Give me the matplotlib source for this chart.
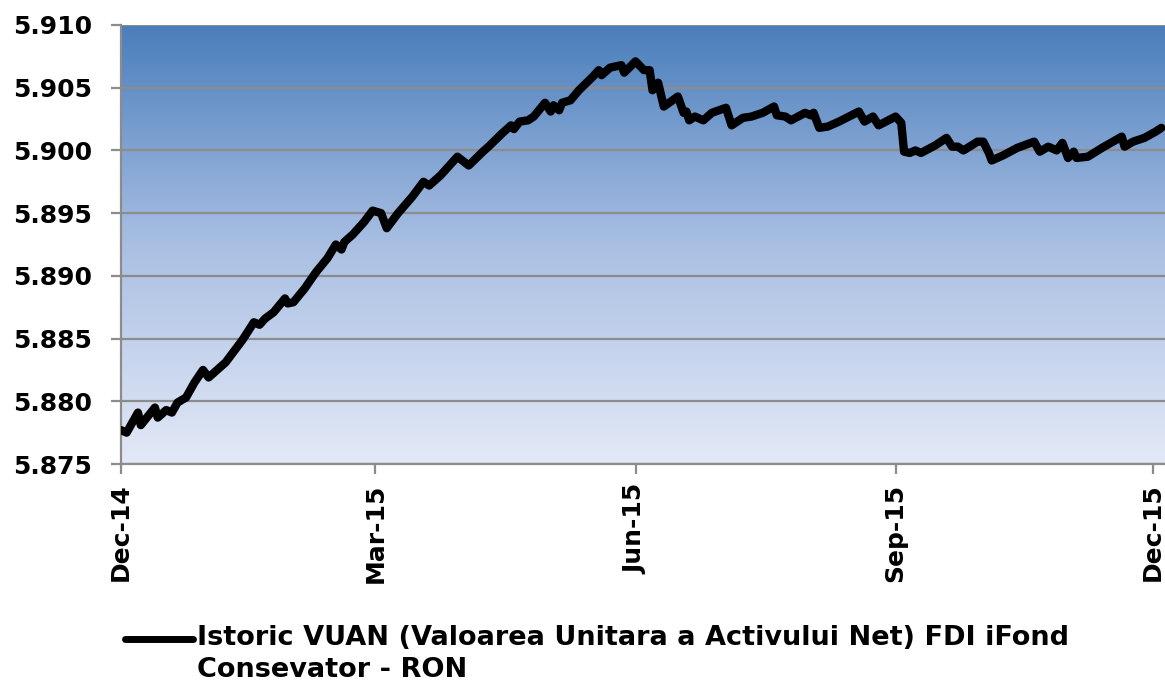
import numpy as np
import pandas as pd
import matplotlib
matplotlib.use("Agg")
import matplotlib.pyplot as plt
import matplotlib.dates as mdates
from matplotlib.colors import LinearSegmentedColormap
from matplotlib.lines import Line2D

# DATA
dates = [
    "2014-12-01", "2014-12-03", "2014-12-07", "2014-12-08", "2014-12-13", "2014-12-14",
    "2014-12-17", "2014-12-19", "2014-12-21", "2014-12-24", "2014-12-27", "2014-12-30",
    "2015-01-01", "2015-01-03", "2015-01-07", "2015-01-09", "2015-01-13", "2015-01-17",
    "2015-01-19", "2015-01-21", "2015-01-24", "2015-01-28", "2015-01-29", "2015-01-31",
    "2015-02-04", "2015-02-08", "2015-02-12", "2015-02-15", "2015-02-17", "2015-02-18",
    "2015-02-21", "2015-02-25", "2015-02-28", "2015-03-03", "2015-03-05", "2015-03-09",
    "2015-03-14", "2015-03-18", "2015-03-20", "2015-03-22", "2015-03-24", "2015-03-30",
    "2015-04-03", "2015-04-08", "2015-04-10", "2015-04-15", "2015-04-18", "2015-04-19",
    "2015-04-21", "2015-04-24", "2015-04-26", "2015-04-30", "2015-05-02", "2015-05-03",
    "2015-05-05", "2015-05-06", "2015-05-09", "2015-05-12", "2015-05-17", "2015-05-19",
    "2015-05-20", "2015-05-23", "2015-05-27", "2015-05-28", "2015-06-01", "2015-06-04",
    "2015-06-06", "2015-06-07", "2015-06-09", "2015-06-11", "2015-06-16", "2015-06-18",
    "2015-06-19", "2015-06-20", "2015-06-22", "2015-06-25", "2015-06-28", "2015-07-03",
    "2015-07-05", "2015-07-09", "2015-07-12", "2015-07-16", "2015-07-20", "2015-07-21",
    "2015-07-24", "2015-07-26", "2015-07-31", "2015-08-02", "2015-08-03", "2015-08-05",
    "2015-08-08", "2015-08-12", "2015-08-19", "2015-08-21", "2015-08-24", "2015-08-26",
    "2015-09-01", "2015-09-03", "2015-09-04", "2015-09-06", "2015-09-08", "2015-09-10",
    "2015-09-15", "2015-09-19", "2015-09-21", "2015-09-23", "2015-09-25", "2015-09-30",
    "2015-10-02", "2015-10-04", "2015-10-05", "2015-10-09", "2015-10-14", "2015-10-20",
    "2015-10-22", "2015-10-25", "2015-10-28", "2015-10-30", "2015-11-01", "2015-11-03",
    "2015-11-04", "2015-11-08", "2015-11-13", "2015-11-20", "2015-11-21", "2015-11-24",
    "2015-11-28", "2015-12-02", "2015-12-04",
]
vuan = [
    5.8777, 5.8775, 5.8791, 5.8781, 5.8795, 5.8787,
    5.8793, 5.8791, 5.8799, 5.8803, 5.8815, 5.8825,
    5.8819, 5.8823, 5.8831, 5.8837, 5.8849, 5.8863,
    5.8861, 5.8866, 5.8871, 5.8882, 5.8878, 5.8879,
    5.8890, 5.8903, 5.8914, 5.8925, 5.8921, 5.8927,
    5.8933, 5.8943, 5.8952, 5.8950, 5.8938, 5.8950,
    5.8963, 5.8975, 5.8972, 5.8976, 5.8980, 5.8995,
    5.8988, 5.8999, 5.9003, 5.9014, 5.9020, 5.9017,
    5.9023, 5.9024, 5.9027, 5.9038, 5.9031, 5.9036,
    5.9032, 5.9038, 5.9040, 5.9048, 5.9059, 5.9064,
    5.9060, 5.9066, 5.9068, 5.9062, 5.9071, 5.9064,
    5.9064, 5.9048, 5.9054, 5.9035, 5.9043, 5.9030,
    5.9031, 5.9024, 5.9027, 5.9024, 5.9030, 5.9034,
    5.9020, 5.9026, 5.9027, 5.9030, 5.9035, 5.9028,
    5.9027, 5.9024, 5.9030, 5.9028, 5.9030, 5.9018,
    5.9019, 5.9023, 5.9031, 5.9023, 5.9027, 5.9020,
    5.9027, 5.9022, 5.8999, 5.8998, 5.9000, 5.8998,
    5.9004, 5.9010, 5.9003, 5.9003, 5.9000, 5.9007,
    5.9007, 5.8998, 5.8992, 5.8996, 5.9002, 5.9007,
    5.8999, 5.9003, 5.9000, 5.9006, 5.8994, 5.8999,
    5.8994, 5.8995, 5.9002, 5.9011, 5.9003, 5.9007,
    5.9010, 5.9015, 5.9018,
]
tick_dates = ["2014-12-01", "2015-03-01", "2015-06-01", "2015-09-01", "2015-12-01"]
y_ticks = [5.875, 5.880, 5.885, 5.890, 5.895, 5.900, 5.905, 5.910]
label = "Istoric VUAN (Valoarea Unitara a Activului Net) FDI iFond\nConsevator - RON"

x = pd.to_datetime(dates)

fig = plt.figure(figsize=(11.65, 6.84), dpi=100)
ax = fig.add_axes([121/1165, 1-464/684, 1-121/1165, (464-25)/684])

# background gradient
cmap = LinearSegmentedColormap.from_list("bg", ["#E3E9F6", "#A9BFE3", "#4A7EBB"])
grad = np.linspace(0, 1, 256).reshape(-1, 1)
ax.imshow(grad, extent=[0, 1, 0, 1], transform=ax.transAxes, aspect='auto',
          cmap=cmap, origin='lower', zorder=0)

ax.plot(x, vuan, color='k', lw=6, solid_joinstyle='round', solid_capstyle='round', zorder=3)

ax.set_ylim(5.875, 5.910)
ax.set_yticks(y_ticks)
ax.set_yticklabels([f"{v:.3f}" for v in y_ticks])
ax.set_xlim(pd.Timestamp("2014-12-01"), pd.Timestamp("2014-12-01") + pd.Timedelta(days=369.3))
ax.set_xticks(pd.to_datetime(tick_dates))
ax.xaxis.set_major_formatter(mdates.DateFormatter("%b-%y"))
ax.grid(axis='y', color='#8C8C8C', lw=1.6)
ax.set_axisbelow(False)
for s in ['top', 'right']:
    ax.spines[s].set_visible(False)
for s in ['left', 'bottom']:
    ax.spines[s].set_color('#8C8C8C')
    ax.spines[s].set_linewidth(1.6)
ax.tick_params(axis='y', length=7, width=1.6, color='#8C8C8C', pad=14, labelsize=18)
ax.tick_params(axis='x', length=7, width=1.6, color='#8C8C8C', pad=7, labelsize=18,
               labelrotation=90)
for t in ax.get_xticklabels() + ax.get_yticklabels():
    t.set_fontweight('bold')

# legend
fig.add_artist(Line2D([125/1165, 193/1165], [1-639/684]*2, color='k', lw=5,
                      solid_capstyle='round', transform=fig.transFigure))
fig.text(197/1165, 1-625/684, label, fontsize=19.5, fontweight='bold',
         va='top', ha='left', linespacing=1.3)

fig.savefig("out.png", dpi=100)
